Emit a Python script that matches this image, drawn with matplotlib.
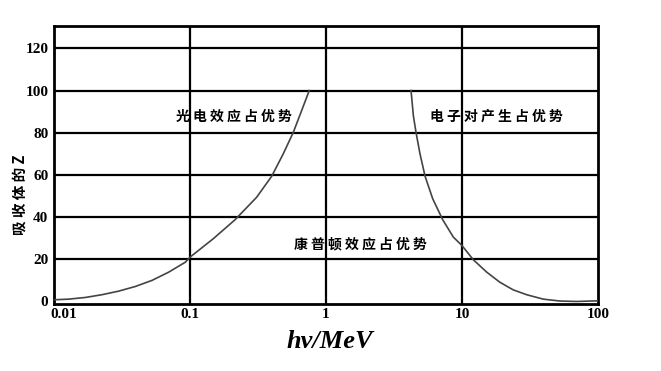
import matplotlib
matplotlib.use("Agg")
import matplotlib.pyplot as plt
from matplotlib import transforms

# Data
photo_E = [0.01, 0.0128, 0.0170, 0.0225, 0.0299, 0.0396, 0.0526, 0.0697, 0.0923,
           0.1, 0.148, 0.214, 0.309, 0.399, 0.485, 0.575, 0.662, 0.753]
photo_Z = [0.8, 1.1, 1.9, 3.2, 4.9, 7.1, 10.0, 13.9, 18.6,
           21.0, 29.7, 38.7, 49.4, 59.4, 70.0, 80.2, 90.5, 100.0]
pair_E = [4.22, 4.39, 4.59, 4.91, 5.35, 6.09, 7.22, 8.64, 10.0,
          12.1, 15.2, 19.0, 23.8, 29.9, 39.6, 52.6, 69.7, 100.0]
pair_Z = [100.0, 88.0, 80.2, 70.0, 59.4, 48.7, 38.7, 30.5, 26.5,
          19.8, 13.9, 9.1, 5.5, 3.2, 1.1, 0.2, 0.0, 0.3]

x_ticks = [0.01, 0.1, 1, 10, 100]
x_labels = ["0.01", "0.1", "1", "10", "100"]
y_ticks = [0, 20, 40, 60, 80, 100, 120]

labels = ["光电效应占优势", "电子对产生占优势", "康普顿效应占优势"]
label_pos = [(0.209, 87.7), (17.8, 87.7), (1.79, 27.3)]

cjk = ["Noto Sans CJK SC", "DejaVu Sans"]
serif = ["Liberation Serif", "DejaVu Serif"]

fig = plt.figure(figsize=(6.61, 3.71), dpi=100)
ax = fig.add_axes([54 / 661, 1 - 304 / 371, 544 / 661, 278 / 371])

ax.set_xscale("log")
ax.set_xlim(0.01, 100)
ax.set_ylim(-1.2, 130.6)

for v in [0.1, 1, 10]:
    ax.axvline(v, color="black", lw=1.6, zorder=1)
for v in [20, 40, 60, 80, 100, 120]:
    ax.axhline(v, color="black", lw=1.6, zorder=1)

ax.plot(photo_E, photo_Z, color="#444444", lw=1.2, zorder=3)
ax.plot(pair_E, pair_Z, color="#444444", lw=1.2, zorder=3)

for s in ax.spines.values():
    s.set_linewidth(2)
    s.set_color("black")

ax.set_xticks(x_ticks)
ax.set_xticklabels(x_labels, fontfamily=serif, fontweight="bold", fontsize=11)
ax.minorticks_off()
ax.set_yticks(y_ticks)
ax.set_yticklabels([str(v) for v in y_ticks], fontfamily=serif, fontweight="bold", fontsize=11)
ax.tick_params(length=0, pad=4)
ax.tick_params(axis="x", pad=3)

# shift first x tick label right
first = ax.get_xticklabels()[0]
first.set_transform(first.get_transform() + transforms.ScaledTranslation(9.5 / 100, 0, fig.dpi_scale_trans))

for txt, (x, y) in zip(labels, label_pos):
    ax.text(x, y, " ".join(txt), ha="center", va="center", fontsize=10,
            fontweight="bold", family=cjk, zorder=4)

fig.text(330 / 661, 1 - 341 / 371, "hv/MeV", ha="center", va="center",
         fontsize=19, fontweight="bold", fontstyle="italic", family=serif)
fig.text(20 / 661, 1 - 195 / 371, "吸 收 体 的 Z", ha="center", va="center",
         rotation=90, fontsize=10.5, fontweight="bold", family=cjk)

fig.savefig("out.png", dpi=100)
